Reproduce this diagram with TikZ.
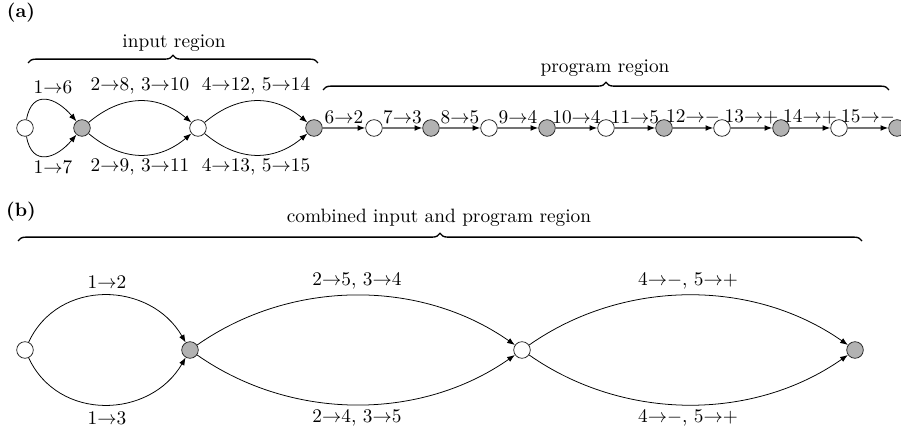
\documentclass[tikz,border=0pt]{standalone}
\usetikzlibrary{arrows.meta,decorations.pathreplacing}
\begin{document}
\begin{tikzpicture}[x=0.518pt,y=-0.518pt,
  wnode/.style={circle,draw=black!85,line width=0.4pt,fill=white,minimum size=8.6pt,inner sep=0pt},
  gnode/.style={wnode,fill=black!30},
  arc/.style={draw=black,line width=0.4pt,-{Latex[length=4pt,width=3pt]}},
  chain/.style={draw=black!55,line width=0.6pt,-{Latex[length=4pt,width=3pt,color=black]}},
  lbl/.style={inner sep=0pt,font=\normalsize},
  bracestyle/.style={decorate,decoration={brace,amplitude=4pt},line width=0.7pt}]
\useasboundingbox (0,0) rectangle (901,429);

% ---------- (a) ----------
\node[lbl,font=\bfseries] (la) at (21,13) {(a)};
\node[lbl] (tin) at (174,43) {input region};
\coordinate (bi1) at (28,63);
\coordinate (bi2) at (318,63);
\draw[bracestyle] (bi1) -- (bi2);
\node[lbl] (tprog) at (605,68) {program region};
\coordinate (bp1) at (323,90);
\coordinate (bp2) at (889,90);
\draw[bracestyle] (bp1) -- (bp2);

\node[wnode] (a1) at (25,128) {};
\node[gnode] (a2) at (82,128) {};
\node[wnode] (a3) at (198,128) {};
\node[gnode] (a4) at (314,128) {};
\node[wnode] (c1) at (374,128) {};
\node[gnode] (c2) at (431,128) {};
\node[wnode] (c3) at (489,128) {};
\node[gnode] (c4) at (547,128) {};
\node[wnode] (c5) at (606,128) {};
\node[gnode] (c6) at (664,128) {};
\node[wnode] (c7) at (722,128) {};
\node[gnode] (c8) at (781,128) {};
\node[wnode] (c9) at (839,128) {};
\node[gnode] (c10) at (897,128) {};

\draw[arc] (a1) to[out=80,in=130,looseness=1.6] (a2);
\draw[arc] (a1) to[out=-80,in=-130,looseness=1.6] (a2);
\draw[arc] (a2) to[out=40,in=140,looseness=1.1] (a3);
\draw[arc] (a2) to[out=-40,in=-140,looseness=1.1] (a3);
\draw[arc] (a3) to[out=40,in=140,looseness=1.1] (a4);
\draw[arc] (a3) to[out=-40,in=-140,looseness=1.1] (a4);

\node[lbl] (l16) at (53,87) {1$\to$6};
\node[lbl] (l17) at (53,167) {1$\to$7};
\node[lbl] (l28) at (140,86) {2$\to$8, 3$\to$10};
\node[lbl] (l29) at (140,167) {2$\to$9, 3$\to$11};
\node[lbl] (l412) at (256,86) {4$\to$12, 5$\to$14};
\node[lbl] (l413) at (256,167) {4$\to$13, 5$\to$15};

\draw[chain] (a4) -- (c1);
\draw[chain] (c1) -- (c2);
\draw[chain] (c2) -- (c3);
\draw[chain] (c3) -- (c4);
\draw[chain] (c4) -- (c5);
\draw[chain] (c5) -- (c6);
\draw[chain] (c6) -- (c7);
\draw[chain] (c7) -- (c8);
\draw[chain] (c8) -- (c9);
\draw[chain] (c9) -- (c10);

\node[lbl] (k1) at (344,117) {6$\to$2};
\node[lbl] (k2) at (402.5,117) {7$\to$3};
\node[lbl] (k3) at (460,117) {8$\to$5};
\node[lbl] (k4) at (518,117) {9$\to$4};
\node[lbl] (k5) at (576.5,117) {10$\to$4};
\node[lbl] (k6) at (635,117) {11$\to$5};
\node[lbl] (k7) at (693,117) {12${\to}{-}$};
\node[lbl] (k8) at (751.5,117) {13${\to}{+}$};
\node[lbl] (k9) at (810,117) {14${\to}{+}$};
\node[lbl] (k10) at (868,117) {15${\to}{-}$};

% ---------- (b) ----------
\node[lbl,font=\bfseries] (lb) at (21,212) {(b)};
\node[lbl] (tcomb) at (439,218) {combined input and program region};
\coordinate (bc1) at (18,241);
\coordinate (bc2) at (862,241);
\draw[bracestyle] (bc1) -- (bc2);

\node[wnode] (b1) at (25,350) {};
\node[gnode] (b2) at (190,350) {};
\node[wnode] (b3) at (522,350) {};
\node[gnode] (b4) at (855,350) {};

\draw[arc] (b1) to[out=65,in=120,looseness=1.15] (b2);
\draw[arc] (b1) to[out=-65,in=-120,looseness=1.15] (b2);
\draw[arc] (b2) to[out=35,in=145,looseness=0.93] (b3);
\draw[arc] (b2) to[out=-35,in=-145,looseness=0.93] (b3);
\draw[arc] (b3) to[out=35,in=145,looseness=0.93] (b4);
\draw[arc] (b3) to[out=-35,in=-145,looseness=0.93] (b4);

\node[lbl] (m12) at (107,282) {1$\to$2};
\node[lbl] (m13) at (107,418) {1$\to$3};
\node[lbl] (m25) at (357,281) {2$\to$5, 3$\to$4};
\node[lbl] (m24) at (357,418) {2$\to$4, 3$\to$5};
\node[lbl] (m4a) at (688,281) {4${\to}{-}$, 5${\to}{+}$};
\node[lbl] (m4b) at (688,418) {4${\to}{-}$, 5${\to}{+}$};
\end{tikzpicture}
\end{document}
